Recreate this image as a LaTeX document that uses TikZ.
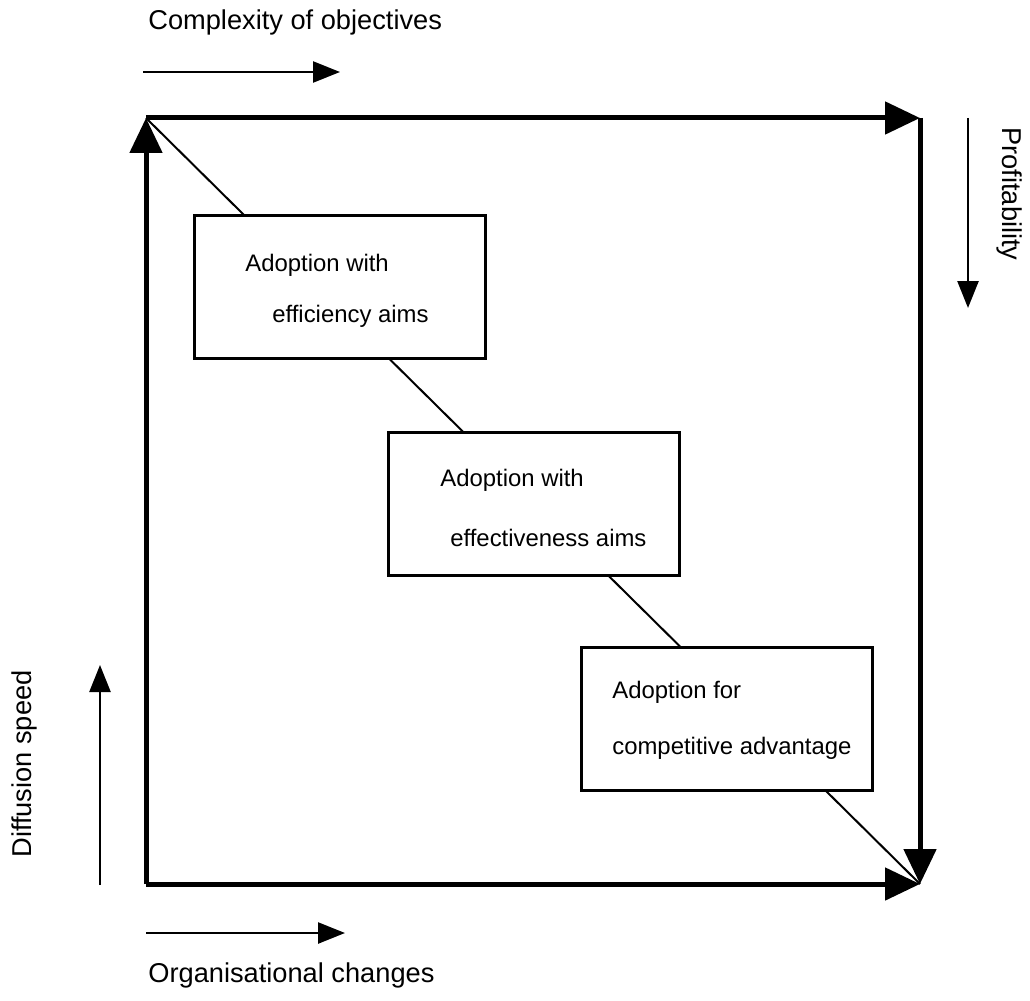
\documentclass[tikz,border=0pt]{standalone}
\usepackage{fontspec}
\setmainfont{Liberation Sans}
\usetikzlibrary{arrows.meta}
\begin{document}
\begin{tikzpicture}[x=0.02cm,y=-0.02cm,
		frame/.style={line width=0.1cm,-{Triangle[length=0.7cm,width=0.64cm]}},
		hint/.style={line width=0.05cm,-{Triangle[length=0.54cm,width=0.42cm]}},
		box/.style={draw,fill=white,line width=0.06cm,minimum width=5.84cm,minimum height=2.88cm,inner sep=0pt},
		txt/.style={anchor=west,inner sep=0pt,font=\fontsize{13.6}{16}\selectfont},
		lbl/.style={inner sep=0pt,font=\fontsize{15.5}{18}\selectfont}]
		\useasboundingbox (0,0) rectangle (1030,1000);
		% corners of the frame
		\coordinate (tl) at (146,118);
		\coordinate (tr) at (920,118);
		\coordinate (bl) at (146,884);
		\coordinate (br) at (920,884);
		\draw[line width=0.04cm](tl)--(br);
		\draw[frame](bl)--(tl);
		\draw[frame](tl)--(tr);
		\draw[frame](tr)--(br);
		\draw[frame](bl)--(br);
		% the three stages
		\node[box](eff) at (340,287){};
		\node[box](efv) at (534,504){};
		\node[box](comp) at (727,719){};
		\node[txt](eff1) at (245,265){Adoption with};
		\node[txt](eff2) at (272,316){efficiency aims};
		\node[txt](efv1) at (440,480){Adoption with};
		\node[txt](efv2) at (450,538){effectiveness aims};
		\node[txt](comp1) at (612,692){Adoption for};
		\node[txt](comp2) at (612,748){competitive advantage};
		% outer axes
		\coordinate (cs) at (143,72);
		\coordinate (ce) at (340,72);
		\coordinate (ps) at (968,118);
		\coordinate (pe) at (968,308);
		\coordinate (ds) at (100,885);
		\coordinate (de) at (100,665);
		\coordinate (os) at (146,933);
		\coordinate (oe) at (345,933);
		\draw[hint](cs)--(ce);
		\draw[hint](ps)--(pe);
		\draw[hint](ds)--(de);
		\draw[hint](os)--(oe);
		\node[lbl,anchor=west](cplx) at (148,22){Complexity of objectives};
		\node[lbl,rotate=-90](prof) at (1010,194){Profitability};
		\node[lbl,rotate=90](diff) at (24,764){Diffusion speed};
		\node[lbl,anchor=west](org) at (148,975){Organisational changes};
	\end{tikzpicture}
\end{document}
